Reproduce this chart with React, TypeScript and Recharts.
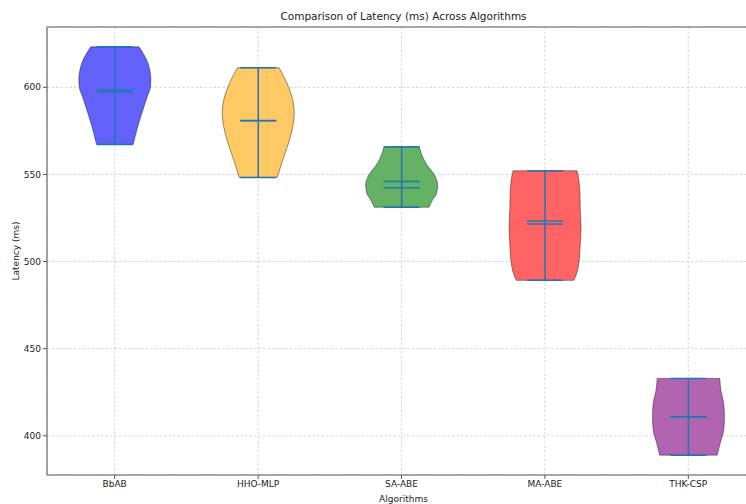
import { ComposedChart, Bar, XAxis, YAxis, CartesianGrid, ReferenceLine } from "recharts";

const algorithms = ["BbAB", "HHO-MLP", "SA-ABE", "MA-ABE", "THK-CSP"];
const minLatency = [567.2, 548.3, 531.2, 489.2, 388.9];
const maxLatency = [623.2, 611.2, 565.9, 552.1, 432.9];
const meanLatency = [598.4, 580.9, 545.9, 523.3, 410.9];
const medianLatency = [597.3, 580.8, 542.4, 521.6, 410.9];

// [latency, relative half-width of the violin] read top to bottom
const bbabProfile = [[623.2, 0.67], [613.8, 0.92], [604.2, 1.0], [600.3, 0.99], [594.6, 0.9], [585.1, 0.75], [575.5, 0.61], [567.2, 0.51]];
const hhoProfile = [[611.2, 0.58], [600.3, 0.84], [592.7, 0.96], [585.1, 1.0], [577.4, 0.96], [567.9, 0.84], [558.3, 0.68], [548.3, 0.53]];
const saProfile = [[565.9, 0.49], [561.2, 0.56], [555.5, 0.7], [549.7, 0.91], [544.0, 1.0], [539.2, 0.97], [535.4, 0.86], [531.2, 0.76]];
const maProfile = [[552.1, 0.89], [546.8, 0.94], [539.2, 0.97], [529.6, 0.98], [520.1, 1.0], [510.5, 0.98], [500.9, 0.95], [493.3, 0.88], [489.2, 0.8]];
const thkProfile = [[432.9, 0.87], [426.2, 0.9], [418.6, 0.98], [410.9, 1.0], [403.3, 0.98], [395.6, 0.88], [388.9, 0.8]];
const profiles = [bbabProfile, hhoProfile, saProfile, maProfile, thkProfile];

const yTicks = [400, 450, 500, 550, 600];
const yDomain = [377.5, 634.6];

const COLORS = ["#6262fb", "#fec864", "#65b165", "#fe6464", "#b165b1"];
const LINE = "#1f77b4";
const SPINE = "#8c8c8c";
const FONT = "DejaVu Sans, sans-serif";

const data = algorithms.map((name, i) => ({
  name,
  range: [minLatency[i], maxLatency[i]],
  mean: meanLatency[i],
  median: medianLatency[i],
  profile: profiles[i],
  color: COLORS[i],
}));

// monotone cubic along y (x as a function of y), cubic segments only
function smoothY(pts: number[][]) {
  const n = pts.length;
  const h: number[] = [];
  const s: number[] = [];
  for (let i = 0; i < n - 1; i++) {
    h.push(pts[i + 1][1] - pts[i][1]);
    s.push((pts[i + 1][0] - pts[i][0]) / h[i]);
  }
  const m: number[] = new Array(n).fill(0);
  for (let i = 1; i < n - 1; i++) {
    if (s[i - 1] * s[i] <= 0) continue;
    const p = (s[i - 1] * h[i] + s[i] * h[i - 1]) / (h[i - 1] + h[i]);
    m[i] = Math.sign(s[i]) * Math.min(Math.abs(s[i - 1]), Math.abs(s[i]), 0.5 * Math.abs(p)) * 2;
  }
  m[0] = (3 * s[0] - m[1]) / 2;
  m[n - 1] = (3 * s[n - 2] - m[n - 2]) / 2;
  let d = "";
  for (let i = 0; i < n - 1; i++) {
    const dt = h[i] / 3;
    const [x0, y0] = pts[i];
    const [x1, y1] = pts[i + 1];
    d += ` C${x0 + m[i] * dt},${y0 + dt} ${x1 - m[i + 1] * dt},${y1 - dt} ${x1},${y1}`;
  }
  return d;
}

function Violin(props: any) {
  const { x, y, width, height, payload } = props;
  const top = Math.min(y, y + height);
  const h = Math.abs(height);
  const [lo, hi] = payload.range;
  const py = (v: number) => top + ((hi - v) / (hi - lo)) * h;
  const cx = x + width / 2;
  const half = width / 2;
  const cap = width / 4;
  const right = payload.profile.map(([v, d]: number[]) => [cx + d * half, py(v)]);
  const left = [...payload.profile].reverse().map(([v, d]: number[]) => [cx - d * half, py(v)]);
  const path =
    `M${right[0][0]},${right[0][1]}` + smoothY(right) +
    ` L${left[0][0]},${left[0][1]}` + smoothY(left) + " Z";
  const hline = (v: number, key: string) => (
    <line key={key} x1={cx - cap} x2={cx + cap} y1={py(v)} y2={py(v)} stroke={LINE} strokeWidth={1.5} />
  );
  return (
    <g>
      <path d={path} fill={payload.color} stroke="#000" strokeOpacity={0.5} strokeWidth={0.8} />
      <line x1={cx} x2={cx} y1={py(hi)} y2={py(lo)} stroke={LINE} strokeWidth={1.5} />
      {hline(hi, "max")}
      {hline(lo, "min")}
      {hline(payload.mean, "mean")}
      {hline(payload.median, "median")}
    </g>
  );
}

export default function App() {
  return (
    <div style={{ position: "absolute", left: 0, top: 0, width: 746, height: 504, overflow: "hidden", background: "#fff", fontFamily: FONT }}>
      <div style={{ position: "absolute", left: 47, width: 713, top: 10, textAlign: "center", fontSize: 10.5, color: "#222" }}>
        Comparison of Latency (ms) Across Algorithms
      </div>
      <ComposedChart width={770} height={504} data={data} margin={{ top: 27, right: 10, bottom: 0, left: 0 }} barCategoryGap="25%">
        <CartesianGrid stroke="#d4d4d4" strokeDasharray="2.5 2" />
        <XAxis
          dataKey="name"
          type="category"
          height={29}
          padding={{ left: -4, right: 0 }}
          axisLine={{ stroke: SPINE, strokeWidth: 1.6 }}
          tickLine={{ stroke: "#555" }}
          tickSize={4}
          tick={{ fill: "#222", fontSize: 9, fontFamily: FONT }}
          label={{ value: "Algorithms", position: "insideBottom", offset: 2, fill: "#222", fontSize: 9, fontFamily: FONT }}
        />
        <YAxis
          type="number"
          width={47}
          domain={yDomain}
          ticks={yTicks}
          allowDataOverflow
          axisLine={{ stroke: SPINE, strokeWidth: 1.6 }}
          tickLine={{ stroke: "#555" }}
          tickSize={4}
          tick={{ fill: "#222", fontSize: 9, fontFamily: FONT }}
          label={{
            content: ({ viewBox }: any) => {
              const lx = viewBox.x + 16;
              const ly = viewBox.y + viewBox.height / 2;
              return (
                <text x={lx} y={ly} transform={`rotate(-90 ${lx} ${ly})`} textAnchor="middle" dominantBaseline="central" fill="#222" fontSize={9} fontFamily={FONT}>
                  Latency (ms)
                </text>
              );
            },
          }}
        />
        <ReferenceLine y={yDomain[1]} stroke={SPINE} strokeWidth={1.6} ifOverflow="extendDomain" />
        <Bar dataKey="range" shape={<Violin />} isAnimationActive={false} />
      </ComposedChart>
    </div>
  );
}
